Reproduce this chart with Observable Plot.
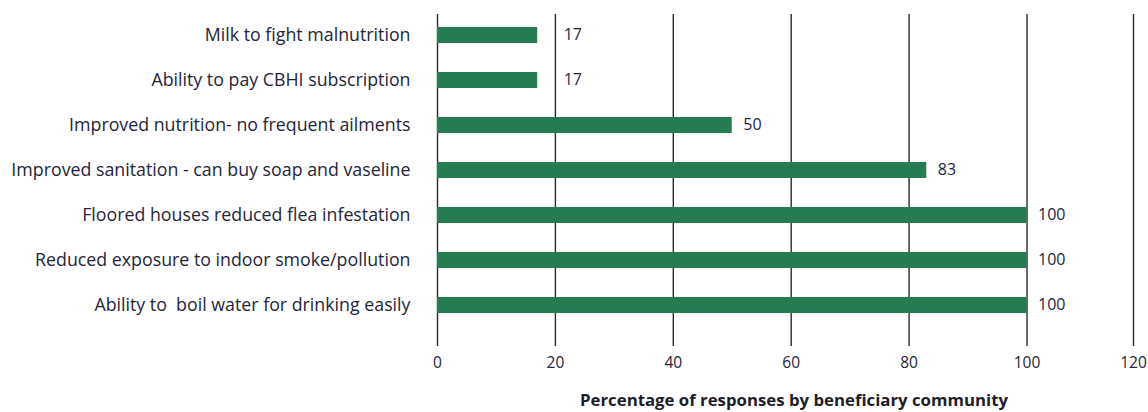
<!DOCTYPE html>
<html>
<head>
<meta charset="utf-8">
<script src="https://cdn.jsdelivr.net/npm/d3@7"></script>
<script src="https://cdn.jsdelivr.net/npm/@observablehq/plot@0.6"></script>
<style>
  html, body { margin: 0; padding: 0; background: #fff; }
  #wrap { position: relative; width: 1148px; height: 412px; font-family: "Open Sans", "Noto Sans", sans-serif; }
  #xtitle { position: absolute; left: 494px; width: 600px; top: 389px; text-align: center; font-weight: bold; font-size: 16.8px; line-height: 22px; color: #1d1d2b; white-space: nowrap; }
</style>
</head>
<body>
<div id="wrap"><div id="chart"></div><div id="xtitle">Percentage of responses by beneficiary community</div></div>
<script>
const categories = [
  "Milk to fight malnutrition",
  "Ability to pay CBHI subscription",
  "Improved nutrition- no frequent ailments",
  "Improved sanitation - can buy soap and vaseline",
  "Floored houses reduced flea infestation",
  "Reduced exposure to indoor smoke/pollution",
  "Ability to  boil water for drinking easily"
];
const values = [17, 17, 50, 83, 100, 100, 100];
const xTicks = [0, 20, 40, 60, 80, 100, 120];

const data = categories.map((c, i) => ({category: c, value: values[i]}));
const textColor = "#25253a";

const chart = Plot.plot({
  width: 1148,
  height: 412,
  marginLeft: 437,
  marginRight: 15,
  marginTop: 14,
  marginBottom: 66,
  style: {fontFamily: "'Open Sans', 'Noto Sans', sans-serif", background: "#fff"},
  x: {type: "linear", domain: [0, 100, 120], range: [437, 1026.5, 1133], axis: null},
  y: {domain: categories, range: [12.5, 327.5], paddingInner: 1 - 16/45, paddingOuter: (1 - 16/45) / 2, axis: null},
  marks: [
    Plot.ruleX(xTicks, {stroke: "#2a2a2a", strokeWidth: 1.4}),
    Plot.barX(data, {x: "value", y: "category", fill: "#247c50"}),
    Plot.axisY({tickSize: 0, tickPadding: 27, fontSize: 17.8, fill: textColor, label: null}),
    Plot.axisX(xTicks, {tickSize: 0, tickPadding: 10, fontSize: 15.5, fill: textColor, label: null}),
    Plot.text(data.filter(d => d.value < 20), {x: "value", y: "category", text: d => String(d.value), textAnchor: "start", dx: 26, dy: -1, fontSize: 16, fill: textColor}),
    Plot.text(data.filter(d => d.value >= 20), {x: "value", y: "category", text: d => String(d.value), textAnchor: "start", dx: 11, dy: -1, fontSize: 16, fill: textColor})
  ]
});
document.getElementById("chart").appendChild(chart);
</script>
</body>
</html>
